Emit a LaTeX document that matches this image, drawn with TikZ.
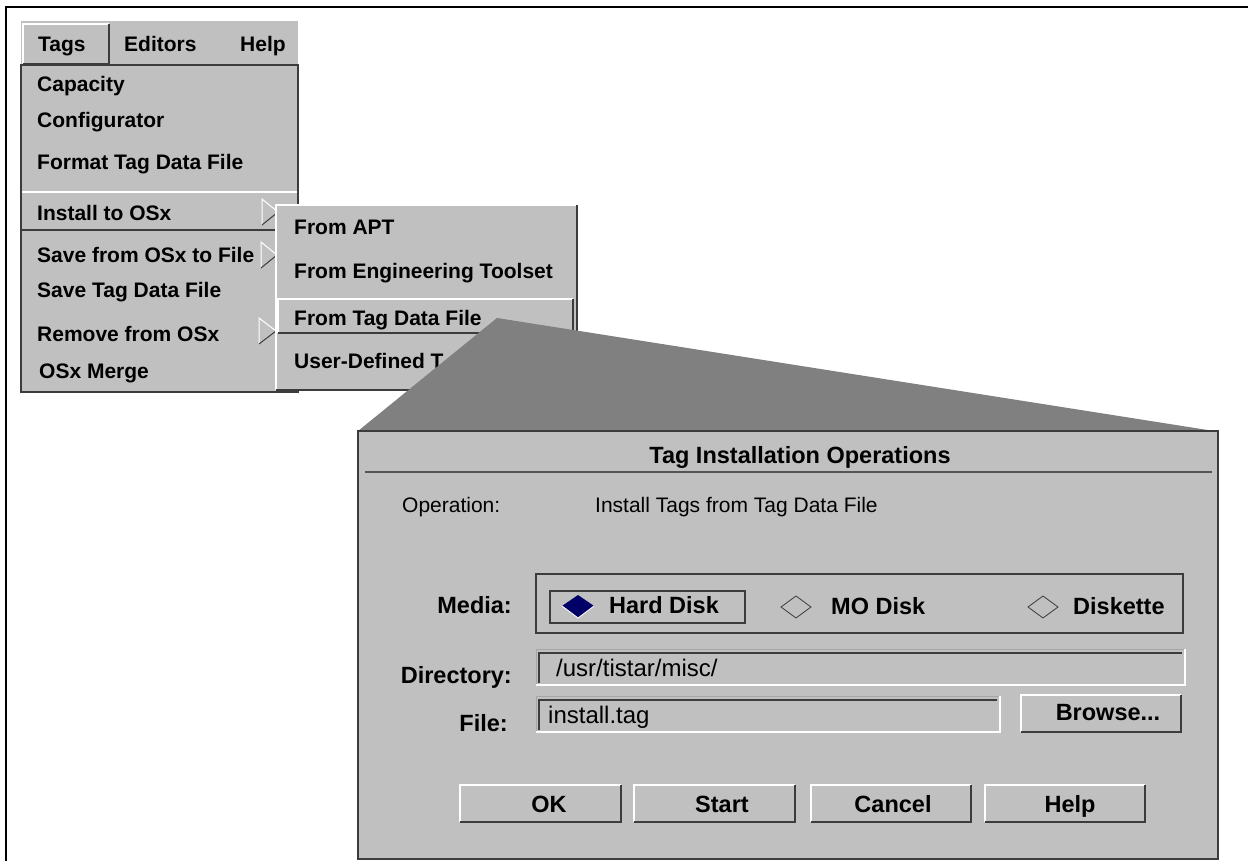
\documentclass[tikz,border=0pt]{standalone}
\usepackage{fontspec}
\setmainfont{Liberation Sans}
\definecolor{panel}{HTML}{C0C0C0}
\definecolor{edgedark}{HTML}{3C3C3C}
\definecolor{conegray}{HTML}{808080}
\definecolor{navyfill}{HTML}{000066}
\definecolor{seamgray}{HTML}{555555}
\newcommand\mnfont{\fontsize{21}{24}\selectfont\bfseries}
\newcommand\dbfont{\fontsize{23.5}{27}\selectfont\bfseries}
\newcommand\drfont{\fontsize{21}{24}\selectfont}
\newcommand\fdfont{\fontsize{24}{28}\selectfont}
\tikzset{
  hi/.style={draw=white,line width=1.6pt},
  lo/.style={draw=edgedark,line width=1.6pt},
  menuitem/.style={anchor=base west,inner sep=0pt,font=\mnfont},
  dlglabel/.style={anchor=base east,inner sep=0pt,font=\dbfont},
  dlgbold/.style={anchor=base west,inner sep=0pt,font=\dbfont},
  dlgbtn/.style={anchor=base,inner sep=0pt,font=\dbfont},
  dlgtext/.style={anchor=base west,inner sep=0pt,font=\drfont},
  fieldtext/.style={anchor=base west,inner sep=0pt,font=\fdfont},
}
\newcommand\raisedbox[4]{%
  \fill[panel] (#1,#2) rectangle (#3,#4);
  \draw[hi] (#1,#4) -- (#1,#2) -- (#3,#2);
  \draw[lo] (#3,#2) -- (#3,#4) -- (#1,#4);}
\newcommand\sunkenbox[4]{%
  \fill[panel] (#1,#2) rectangle (#3,#4);
  \draw[draw=gray!70,line width=1pt] (#1,#4) -- (#1,#2) -- (#3,#2);
  \draw[lo] ([xshift=3pt]#1,#4-2) -- ([xshift=3pt]#1,#2+4) -- (#3-3,#2+4);
  \draw[hi] (#1,#4) -- (#3,#4) -- (#3,#2);}
\begin{document}
\begin{tikzpicture}[x=1pt,y=-1pt]
\useasboundingbox (0,0) rectangle (1248,861);
\fill[white] (0,0) rectangle (1248,861);

% outer frame (left and top edges)
\draw[line width=2.5pt] (6,861) -- (6,7) -- (1248,7);

% ---------- menu bar ----------
\fill[panel] (21,21) rectangle (298,65);
\raisedbox{23}{24}{109}{64}
\node[menuitem] (mTags) at (38,52) {Tags};
\node[menuitem] (mEditors) at (124,52) {Editors};
\node[menuitem] (mHelp) at (240,52) {Help};

% ---------- Tags drop-down ----------
\fill[panel] (21,65) rectangle (298,392);
\draw[lo,line width=1.4pt] (21,65) rectangle (298,392);
\draw[hi] (22,192) -- (297,192);
\draw[lo] (22,230) -- (297,230);
\node[menuitem] (iCap) at (37,92) {Capacity};
\node[menuitem] (iConf) at (37,128) {Configurator};
\node[menuitem] (iFmt) at (37,170) {Format Tag Data File};
\node[menuitem] (iInst) at (37,221) {Install to OSx};
\node[menuitem] (iSaveF) at (37,262) {Save from OSx to File};
\node[menuitem] (iSaveT) at (37,298) {Save Tag Data File};
\node[menuitem] (iRem) at (37,341) {Remove from OSx};
\node[menuitem] (iMerge) at (39,378) {OSx Merge};

% cascade arrows
\draw[hi,line width=1pt] (278,212) -- (262,199) -- (262,225);
\draw[lo,line width=1pt] (262,225) -- (278,212);
\draw[hi,line width=1pt] (277,255) -- (261,242) -- (261,268);
\draw[lo,line width=1pt] (261,268) -- (277,255);
\draw[hi,line width=1pt] (276,331) -- (259,318) -- (259,344);
\draw[lo,line width=1pt] (259,344) -- (276,331);

% ---------- Install submenu ----------
\raisedbox{276}{205}{577}{390}
\draw[hi] (278,333) -- (278,299) -- (573,299);
\draw[lo] (573,299) -- (573,333) -- (278,333);
\node[menuitem] (sApt) at (294,235) {From APT};
\node[menuitem] (sEng) at (294,279) {From Engineering Toolset};
\node[menuitem] (sTag) at (294,325) {From Tag Data File};
\node[menuitem] (sUser) at (294,368) {User-Defined T};

% ---------- zoom cone ----------
\fill[conegray] (497,318) -- (1214,431) -- (358,431) -- cycle;

% ---------- dialog ----------
\fill[panel] (358,431) rectangle (1218,859);
\draw[draw=edgedark,line width=2pt] (358,431) rectangle (1218,859);
\draw[draw=seamgray,line width=1.5pt] (365,472) -- (1212,472);
\node[anchor=base,inner sep=0pt,font=\dbfont] (dTitle) at (800,463) {Tag Installation Operations};

\node[dlgtext] (opLab) at (402,512) {Operation:};
\node[dlgtext] (opVal) at (595,512) {Install Tags from Tag Data File};

% media selector
\draw[draw=edgedark,line width=1.2pt] (536,574) rectangle (1183,633);
\node[dlglabel] (mediaLab) at (512,613) {Media:};
\draw[draw=edgedark,line width=1.2pt] (550,591) rectangle (745,623);
\fill[navyfill] (562,606) -- (578,595) -- (594,606) -- (578,618) -- cycle;
\draw[white,line width=0.9pt] (562,606) -- (578,618) -- (594,606);
\node[dlgbold] (hdLab) at (609,613) {Hard Disk};
\draw[draw=edgedark,line width=0.8pt] (781,607) -- (796,596) -- (811,607) -- (796,618) -- cycle;
\node[dlgbold] (moLab) at (831,614) {MO Disk};
\draw[draw=edgedark,line width=0.8pt] (1028,607) -- (1043,596) -- (1058,607) -- (1043,618) -- cycle;
\node[dlgbold] (dkLab) at (1073,614) {Diskette};

% directory and file fields
\node[dlglabel] (dirLab) at (512,683) {Directory:};
\sunkenbox{536}{649}{1185}{685}
\node[fieldtext] (dirVal) at (556,676) {/usr/tistar/misc/};
\node[dlglabel] (fileLab) at (508,731) {File:};
\sunkenbox{536}{696}{1000}{732}
\node[fieldtext] (fileVal) at (548,723) {install.tag};
\raisedbox{1021}{695}{1181}{732}
\node[dlgbtn] (bBrowse) at (1108,720) {Browse...};

% action buttons
\raisedbox{460}{785}{621}{822}
\node[dlgbtn] (bOK) at (549,812) {OK};
\raisedbox{634}{785}{795}{822}
\node[dlgbtn] (bStart) at (722,812) {Start};
\raisedbox{811}{785}{971}{822}
\node[dlgbtn] (bCancel) at (893,812) {Cancel};
\raisedbox{985}{785}{1145}{822}
\node[dlgbtn] (bHelp) at (1070,812) {Help};
\end{tikzpicture}
\end{document}
